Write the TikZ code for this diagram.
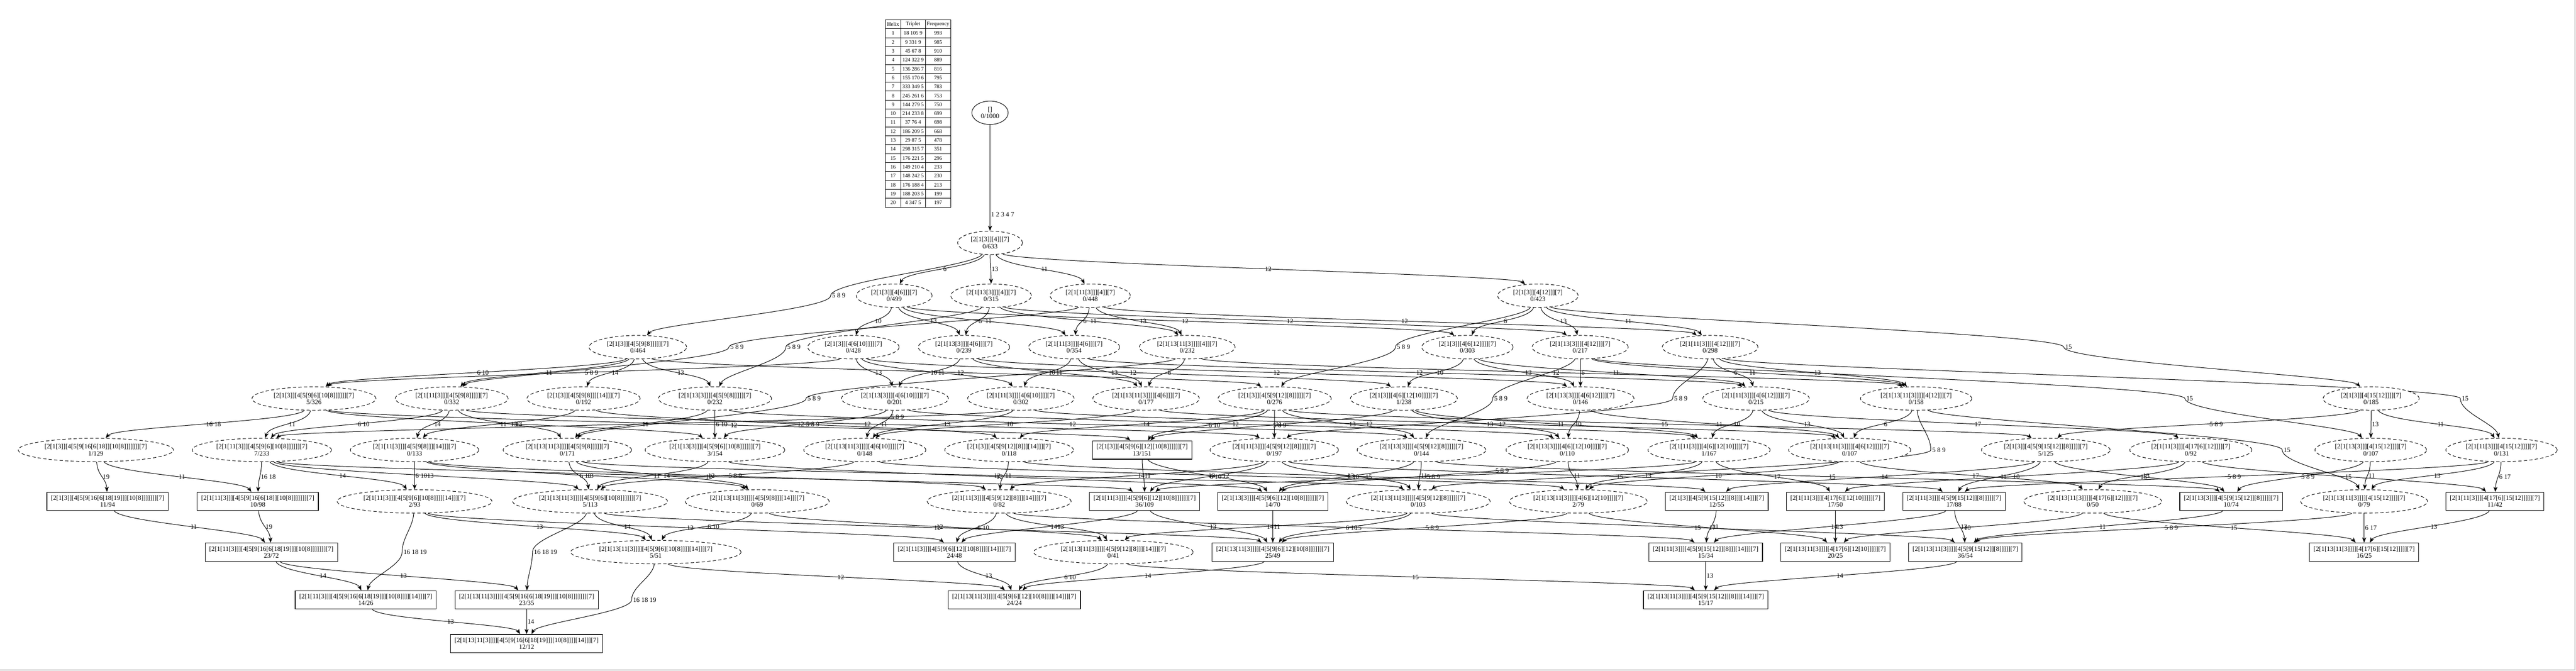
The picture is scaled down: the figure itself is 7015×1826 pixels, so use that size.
\documentclass[tikz,border=0pt]{standalone}
\usepackage{fontspec}
\setmainfont{Liberation Serif}
\usetikzlibrary{shapes.geometric,arrows.meta,calc}
\pgfdeclarelayer{bg}
\pgfsetlayers{bg,main}
\newcommand\gvf{\fontsize{1.8}{1.84}\selectfont}
\newcommand\tbf{\fontsize{1.45}{1.6}\selectfont}
\newcommand\edg[4][0.5]{%
 \draw[lnk] let \p1=(#2), \p2=(#3),
   \n{u}={(\x2-\x1)/30},
   \n{a}={0.62*atan(\n{u})},
   \n{d}={max(3,0.28*abs(\y2-\y1))},
   \n{o}={-90+\n{a}}, \n{i}={90+\n{a}}
 in (#2) to[out=\n{o},in=\n{i},distance=\n{d}] node[lab,pos=#1]{#4} (#3);}
% edge routed through a waypoint (label at the waypoint)
\newcommand\edgv[5]{%
 \coordinate (#1-#2) at (#3,#4);
 \draw[lnk,-] let \p1=(#1), \p2=(#1-#2),
   \n{a}={0.62*atan((\x2-\x1)/30)},
   \n{d}={max(3,0.28*abs(\y2-\y1))},
   \n{o}={-90+\n{a}}
 in (#1) to[out=\n{o},in=90,distance=\n{d}] (#1-#2);
 \draw[lnk] let \p1=(#1-#2), \p2=(#2),
   \n{a}={0.62*atan((\x2-\x1)/30)},
   \n{d}={max(3,0.28*abs(\y2-\y1))},
   \n{i}={90+\n{a}}
 in (#1-#2) to[out=-90,in=\n{i},distance=\n{d}] (#2);
 \node[lab] at (#1-#2) {#5};}
\begin{document}
\begin{tikzpicture}[x=0.1pt,y=-0.1pt,
 ell/.style={ellipse, draw, dash pattern=on 0.9pt off 0.6pt, line width=0.14pt, fill=white, inner xsep=1pt, inner ysep=0.7pt, align=center, font=\gvf},
 bx/.style={rectangle, draw, line width=0.16pt, fill=white, inner xsep=1.1pt, inner ysep=0.7pt, minimum height=5pt, align=center, font=\gvf},
 rt/.style={ellipse, draw, line width=0.14pt, fill=white, inner xsep=1pt, inner ysep=0.7pt, align=center, font=\gvf},
 lnk/.style={line width=0.14pt, -{Stealth[length=1.4pt,width=1.1pt,inset=0.4pt]}},
 lab/.style={font=\gvf, anchor=west, inner sep=0.2pt},
 tb/.style={font=\tbf, inner sep=0pt},
 tbl/.style={line width=0.14pt}]
\useasboundingbox (0,0) rectangle (7015,1826);
\draw[black!22, line width=0.2pt] (0,1824) -- (7012,1824) -- (7012,0);
% table
\draw[tbl] (2411,54) rectangle (2589,564);
\draw[tbl] (2453,54) -- (2453,564) (2520,54) -- (2520,564);
\foreach \k in {1,...,20} \draw[tbl] (2411,{54+24.286*\k}) -- (2589,{54+24.286*\k});
\foreach \a/\b/\c [count=\i from 0] in {Helix/Triplet/Frequency,1/18 105 9/993,2/9 331 9/985,3/45 67 8/910,4/124 322 9/889,5/136 286 7/816,6/155 170 6/795,7/333 349 5/783,8/245 261 6/753,9/144 279 5/750,10/214 233 8/699,11/37 76 4/698,12/186 209 5/668,13/29 87 5/478,14/298 315 7/351,15/176 221 5/296,16/149 210 4/233,17/148 242 5/230,18/176 188 4/213,19/188 203 5/199,20/4 347 5/197}{
 \node[tb] (ta\i) at (2432,{54+24.286*(\i+0.5)}) {\a};
 \node[tb] (tb\i) at (2486.5,{54+24.286*(\i+0.5)}) {\b};
 \node[tb] (tc\i) at (2554.5,{54+24.286*(\i+0.5)}) {\c};
}
% nodes
\node[rt] (R0) at (2696,307) {[]\\0/1000};
\node[ell] (N633) at (2696,661) {[2[1[3]][4]][7]\\0/633};
\node[ell] (N499) at (2435,805) {[2[1[3]][4[6]]][7]\\0/499};
\node[ell] (N315) at (2699,805) {[2[1[13[3]]][4]][7]\\0/315};
\node[ell] (N448) at (2969,805) {[2[1[11[3]]][4]][7]\\0/448};
\node[ell] (N423) at (4188,805) {[2[1[3]][4[12]]][7]\\0/423};
\node[ell] (N464) at (1737,945) {[2[1[3]][4[5[9[8]]]]][7]\\0/464};
\node[ell] (N428) at (2324,945) {[2[1[3]][4[6[10]]]][7]\\0/428};
\node[ell] (N239) at (2625,945) {[2[1[13[3]]][4[6]]][7]\\0/239};
\node[ell] (N354) at (2925,945) {[2[1[11[3]]][4[6]]][7]\\0/354};
\node[ell] (N232a) at (3233,945) {[2[1[13[11[3]]]][4]][7]\\0/232};
\node[ell] (N303) at (3996,945) {[2[1[3]][4[6[12]]]][7]\\0/303};
\node[ell] (N217) at (4303,945) {[2[1[13[3]]][4[12]]][7]\\0/217};
\node[ell] (N298) at (4657,945) {[2[1[11[3]]][4[12]]][7]\\0/298};
\node[ell] (N326) at (855,1085) {[2[1[3]][4[5[9[6][10[8]]]]]][7]\\5/326};
\node[ell] (N332) at (1230,1085) {[2[1[11[3]]][4[5[9[8]]]]][7]\\0/332};
\node[ell] (N192) at (1589,1085) {[2[1[3]][4[5[9[8]]][14]]][7]\\0/192};
\node[ell] (N232b) at (1947,1085) {[2[1[13[3]]][4[5[9[8]]]]][7]\\0/232};
\node[ell] (N201) at (2437,1085) {[2[1[13[3]]][4[6[10]]]][7]\\0/201};
\node[ell] (N302) at (2780,1085) {[2[1[11[3]]][4[6[10]]]][7]\\0/302};
\node[ell] (N177) at (3121,1085) {[2[1[13[11[3]]]][4[6]]][7]\\0/177};
\node[ell] (N276) at (3471,1085) {[2[1[3]][4[5[9[12][8]]]]][7]\\0/276};
\node[ell] (N238) at (3823,1085) {[2[1[3]][4[6][12[10]]]][7]\\1/238};
\node[ell] (N146) at (4304,1085) {[2[1[13[3]]][4[6[12]]]][7]\\0/146};
\node[ell] (N215) at (4782,1085) {[2[1[11[3]]][4[6[12]]]][7]\\0/215};
\node[ell] (N158) at (5218,1085) {[2[1[13[11[3]]]][4[12]]][7]\\0/158};
\node[ell] (N185) at (6457,1085) {[2[1[3]][4[15[12]]]][7]\\0/185};
\node[ell] (N129) at (261,1225) {[2[1[3]][4[5[9[16[6[18]][10[8]]]]]]][7]\\1/129};
\node[ell] (N233) at (713,1225) {[2[1[11[3]]][4[5[9[6][10[8]]]]]][7]\\7/233};
\node[ell] (N133) at (1129,1225) {[2[1[11[3]]][4[5[9[8]]][14]]][7]\\0/133};
\node[ell] (N171) at (1545,1225) {[2[1[13[11[3]]]][4[5[9[8]]]]][7]\\0/171};
\node[ell] (N154) at (1947,1225) {[2[1[13[3]]][4[5[9[6][10[8]]]]]][7]\\3/154};
\node[ell] (N148) at (2355,1225) {[2[1[13[11[3]]]][4[6[10]]]][7]\\0/148};
\node[ell] (N118) at (2748,1225) {[2[1[3]][4[5[9[12][8]]][14]]][7]\\0/118};
\node[bx] (N151) at (3110,1225) {[2[1[3]][4[5[9[6][12][10[8]]]]]][7]\\13/151};
\node[ell] (N197) at (3470,1225) {[2[1[11[3]]][4[5[9[12][8]]]]][7]\\0/197};
\node[ell] (N144) at (3871,1225) {[2[1[13[3]]][4[5[9[12][8]]]]][7]\\0/144};
\node[ell] (N110) at (4268,1225) {[2[1[13[3]]][4[6][12[10]]]][7]\\0/110};
\node[ell] (N167) at (4654,1225) {[2[1[11[3]]][4[6][12[10]]]][7]\\1/167};
\node[ell] (N107a) at (5037,1225) {[2[1[13[11[3]]]][4[6[12]]]][7]\\0/107};
\node[ell] (N125) at (5571,1225) {[2[1[3]][4[5[9[15[12]][8]]]]][7]\\5/125};
\node[ell] (N92) at (5966,1225) {[2[1[11[3]]][4[17[6][12]]]][7]\\0/92};
\node[ell] (N107b) at (6456,1225) {[2[1[13[3]]][4[15[12]]]][7]\\0/107};
\node[ell] (N131) at (6812,1225) {[2[1[11[3]]][4[15[12]]]][7]\\0/131};
\node[bx] (N94) at (293,1365) {[2[1[3]][4[5[9[16[6[18[19]]][10[8]]]]]]][7]\\11/94};
\node[bx] (N98) at (702,1365) {[2[1[11[3]]][4[5[9[16[6[18]][10[8]]]]]]][7]\\10/98};
\node[ell] (N93) at (1129,1365) {[2[1[11[3]]][4[5[9[6][10[8]]]][14]]][7]\\2/93};
\node[ell] (N113) at (1607,1365) {[2[1[13[11[3]]]][4[5[9[6][10[8]]]]]][7]\\5/113};
\node[ell] (N69) at (2062,1365) {[2[1[13[11[3]]]][4[5[9[8]]][14]]][7]\\0/69};
\node[ell] (N82) at (2721,1365) {[2[1[11[3]]][4[5[9[12][8]]][14]]][7]\\0/82};
\node[bx] (N109) at (3117,1365) {[2[1[11[3]]][4[5[9[6][12][10[8]]]]]][7]\\36/109};
\node[bx] (N70) at (3466,1365) {[2[1[13[3]]][4[5[9[6][12][10[8]]]]]][7]\\14/70};
\node[ell] (N103) at (3862,1365) {[2[1[13[11[3]]]][4[5[9[12][8]]]]][7]\\0/103};
\node[ell] (N79a) at (4298,1365) {[2[1[13[11[3]]]][4[6][12[10]]]][7]\\2/79};
\node[bx] (N55) at (4675,1365) {[2[1[3]][4[5[9[15[12]][8]]][14]]][7]\\12/55};
\node[bx] (N50a) at (4998,1365) {[2[1[11[3]]][4[17[6][12[10]]]]][7]\\17/50};
\node[bx] (N88) at (5321,1365) {[2[1[11[3]]][4[5[9[15[12]][8]]]]][7]\\17/88};
\node[ell] (N50b) at (5699,1365) {[2[1[13[11[3]]]][4[17[6][12]]]][7]\\0/50};
\node[bx] (N74) at (6076,1365) {[2[1[13[3]]][4[5[9[15[12]][8]]]]][7]\\10/74};
\node[ell] (N79b) at (6438,1365) {[2[1[13[11[3]]]][4[15[12]]]][7]\\0/79};
\node[bx] (N42) at (6794,1365) {[2[1[11[3]]][4[17[6][15[12]]]]][7]\\11/42};
\node[bx] (N72) at (739,1503) {[2[1[11[3]]][4[5[9[16[6[18[19]]][10[8]]]]]]][7]\\23/72};
\node[ell] (N51) at (1786,1503) {[2[1[13[11[3]]]][4[5[9[6][10[8]]]][14]]][7]\\5/51};
\node[bx] (N48) at (2599,1503) {[2[1[11[3]]][4[5[9[6][12][10[8]]]][14]]][7]\\24/48};
\node[ell] (N41) at (3032,1503) {[2[1[13[11[3]]]][4[5[9[12][8]]][14]]][7]\\0/41};
\node[bx] (N49) at (3466,1503) {[2[1[13[11[3]]]][4[5[9[6][12][10[8]]]]]][7]\\25/49};
\node[bx] (N34) at (4645,1503) {[2[1[11[3]]][4[5[9[15[12]][8]]][14]]][7]\\15/34};
\node[bx] (N25a) at (4998,1503) {[2[1[13[11[3]]]][4[17[6][12[10]]]]][7]\\20/25};
\node[bx] (N54) at (5352,1503) {[2[1[13[11[3]]]][4[5[9[15[12]][8]]]]][7]\\36/54};
\node[bx] (N25b) at (6438,1503) {[2[1[13[11[3]]]][4[17[6][15[12]]]]][7]\\16/25};
\node[bx] (N26) at (996,1633) {[2[1[11[3]]][4[5[9[16[6[18[19]]][10[8]]]][14]]][7]\\14/26};
\node[bx] (N35) at (1434,1633) {[2[1[13[11[3]]]][4[5[9[16[6[18[19]]][10[8]]]]]]][7]\\23/35};
\node[bx] (N24) at (2762,1633) {[2[1[13[11[3]]]][4[5[9[6][12][10[8]]]][14]]][7]\\24/24};
\node[bx] (N17) at (4645,1633) {[2[1[13[11[3]]]][4[5[9[15[12]][8]]][14]]][7]\\15/17};
\node[bx] (N12) at (1434,1752) {[2[1[13[11[3]]]][4[5[9[16[6[18[19]]][10[8]]]][14]]][7]\\12/12};
% edges
\begin{pgfonlayer}{bg}
\edg[0.85]{R0}{N633}{1 2 3 4 7}
\edg{N633}{N499}{6} \edg{N633}{N315}{13} \edg{N633}{N448}{11} \edg{N633}{N423}{12}
\edgv{N633}{N464}{2262}{805}{5 8 9}
\edg{N499}{N428}{10} \edg{N499}{N239}{13} \edg{N499}{N354}{11} \edg{N499}{N303}{12}
\edg{N315}{N239}{6} \edg{N315}{N232a}{11} \edg{N315}{N217}{12}
\edgv{N315}{N232b}{2140}{945}{5 8 9}
\edg{N448}{N354}{6} \edg{N448}{N232a}{13} \edg{N448}{N298}{12}
\edgv{N448}{N332}{1985}{945}{5 8 9}
\edg{N423}{N303}{6} \edg{N423}{N217}{13} \edg{N423}{N298}{11}
\edgv{N423}{N185}{5620}{945}{15}
\edgv{N423}{N276}{3800}{945}{5 8 9}
\edg{N464}{N326}{6 10} \edg{N464}{N332}{11} \edg{N464}{N192}{14} \edg{N464}{N232b}{13} \edg{N464}{N276}{12}
\edg{N428}{N326}{5 8 9} \edg{N428}{N201}{13} \edg{N428}{N302}{11} \edg{N428}{N238}{12}
\edg{N239}{N201}{10} \edg{N239}{N177}{11} \edg{N239}{N146}{12}
\edg{N354}{N302}{10} \edg{N354}{N177}{13} \edg{N354}{N215}{12}
\edg{N232a}{N177}{6} \edg{N232a}{N158}{12}
\edgv{N232a}{N171}{2195}{1085}{5 8 9}
\edg{N303}{N238}{10} \edg{N303}{N146}{13} \edg{N303}{N215}{11}
\edg{N217}{N146}{6} \edg{N217}{N158}{11}
\edgv{N217}{N107b}{5950}{1085}{15}
\edgv{N217}{N144}{4065}{1085}{5 8 9}
\edg{N298}{N215}{6} \edg{N298}{N158}{13}
\edgv{N298}{N131}{6700}{1085}{15}
\edgv{N298}{N197}{4555}{1085}{5 8 9}
\edg{N185}{N107b}{13} \edg{N185}{N131}{11} \edg{N185}{N125}{5 8 9}
\edg{N326}{N129}{16 18} \edg{N326}{N233}{11} \edg{N326}{N154}{13} \edg{N326}{N151}{12}
\edg{N332}{N233}{6 10} \edg{N332}{N133}{14} \edg{N332}{N171}{13} \edg{N332}{N197}{12}
\edg{N192}{N133}{11} \edg{N192}{N118}{12}
\edg{N232b}{N154}{6 10} \edg{N232b}{N171}{11} \edg{N232b}{N144}{12}
\edg{N276}{N151}{6 10} \edg{N276}{N118}{14} \edg{N276}{N197}{11} \edg{N276}{N144}{13} \edg{N276}{N125}{15}
\edg{N201}{N154}{5 8 9} \edg{N201}{N148}{11} \edg{N201}{N110}{12}
\edg[0.25]{N302}{N233}{5 8 9} \edg{N302}{N148}{13} \edg{N302}{N167}{12}
\edg{N177}{N148}{10} \edg{N177}{N107a}{12}
\edg{N238}{N151}{5 8 9} \edg{N238}{N110}{13} \edg{N238}{N167}{11}
\edg{N146}{N110}{10} \edg{N146}{N107a}{11}
\edg{N215}{N167}{10} \edg{N215}{N107a}{13} \edg{N215}{N92}{17}
\edg{N158}{N107a}{6}
\edgv{N158}{N103}{5258}{1225}{5 8 9}
\edgv{N158}{N79b}{6215}{1225}{15}
\edg{N107b}{N74}{5 8 9} \edg{N107b}{N79b}{11}
\edg{N131}{N79b}{13} \edg{N131}{N42}{6 17} \edg{N131}{N88}{5 8 9}
\edg{N125}{N55}{14} \edg{N125}{N88}{11} \edg{N125}{N74}{13}
\edg{N129}{N94}{19} \edg{N129}{N98}{11}
\edg{N233}{N98}{16 18} \edg{N233}{N93}{14} \edg{N233}{N113}{13} \edg{N233}{N109}{12}
\edg{N133}{N93}{6 10} \edg{N133}{N69}{13} \edg{N133}{N82}{12}
\edg{N171}{N113}{6 10} \edg{N171}{N69}{14} \edg{N171}{N103}{12}
\edg{N154}{N113}{11} \edg{N154}{N70}{12}
\edg{N148}{N113}{5 8 9} \edg{N148}{N79a}{12}
\edg{N118}{N82}{11} \edg{N118}{N55}{15}
\edg{N151}{N109}{11} \edg{N151}{N70}{13}
\edg{N197}{N109}{6 10} \edg{N197}{N82}{14} \edg{N197}{N103}{13} \edg{N197}{N88}{15}
\edg{N144}{N70}{6 10} \edg{N144}{N103}{11} \edg{N144}{N74}{15}
\edg[0.3]{N110}{N70}{5 8 9} \edg{N110}{N79a}{11}
\edg{N167}{N109}{5 8 9} \edg{N167}{N79a}{13} \edg{N167}{N50a}{17}
\edg{N107a}{N79a}{10} \edg{N107a}{N50b}{17}
\edg{N92}{N50a}{10} \edg{N92}{N50b}{13} \edg{N92}{N42}{15}
\edg{N94}{N72}{11} \edg{N98}{N72}{19}
\edgv{N93}{N26}{1095}{1503}{16 18 19}
\edg{N93}{N51}{13} \edg{N93}{N48}{12}
\edgv{N113}{N35}{1450}{1503}{16 18 19}
\edg{N113}{N51}{14} \edg{N113}{N49}{12}
\edg{N69}{N51}{6 10} \edg{N69}{N41}{12}
\edg{N82}{N48}{6 10} \edg{N82}{N41}{13} \edg{N82}{N34}{15}
\edg{N109}{N48}{14} \edg{N109}{N49}{13}
\edg{N70}{N49}{11}
\edg{N103}{N49}{6 10} \edg{N103}{N41}{14} \edg{N103}{N54}{15}
\edg{N79a}{N49}{5 8 9} \edg{N79a}{N25a}{17}
\edg{N55}{N34}{11}
\edg{N50a}{N25a}{13}
\edg{N88}{N34}{14} \edg{N88}{N54}{13}
\edg{N50b}{N25a}{10} \edg{N50b}{N25b}{15}
\edg{N74}{N54}{11}
\edg{N79b}{N54}{5 8 9} \edg{N79b}{N25b}{6 17}
\edg{N42}{N25b}{13}
\edg{N72}{N26}{14} \edg{N72}{N35}{13}
\edgv{N51}{N12}{1720}{1633}{16 18 19}
\edg{N51}{N24}{12}
\edg{N48}{N24}{13}
\edg{N41}{N24}{6 10} \edg{N41}{N17}{15}
\edg{N49}{N24}{14}
\edg{N34}{N17}{13}
\edg{N54}{N17}{14}
\edg{N26}{N12}{13}
\edg{N35}{N12}{14}
\end{pgfonlayer}
\end{tikzpicture}
\end{document}
